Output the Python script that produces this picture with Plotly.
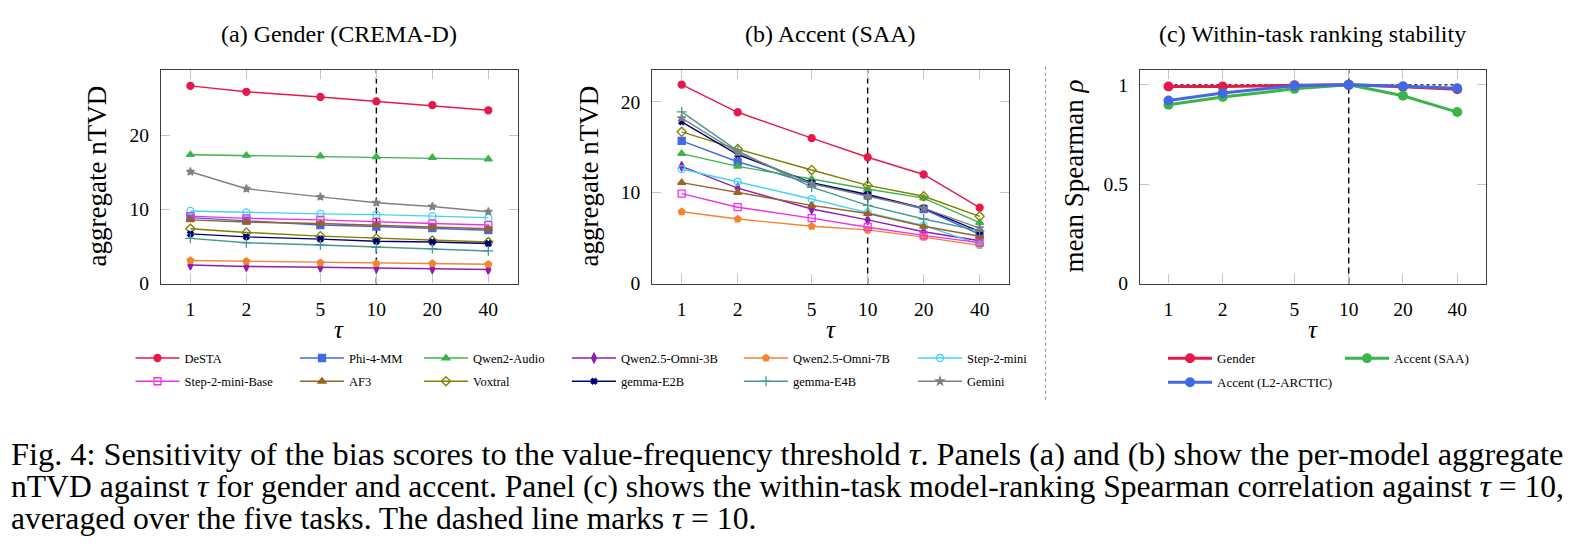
import plotly.graph_objects as go

W, H = 1574, 549

# ---------------- data ----------------
tau = [1, 2, 5, 10, 20, 40]
tau_ref = 10
tick_labels = ["1", "2", "5", "10", "20", "40"]

models = ["DeSTA", "Phi-4-MM", "Qwen2-Audio", "Qwen2.5-Omni-3B", "Qwen2.5-Omni-7B", "Step-2-mini",
          "Step-2-mini-Base", "AF3", "Voxtral", "gemma-E2B", "gemma-E4B", "Gemini"]

# panel (a): aggregate nTVD, gender (CREMA-D), one row per model
gender_ntvd = [
    [26.7, 25.9, 25.2, 24.6, 24.1, 23.4],   # DeSTA
    [8.9, 8.5, 7.9, 7.7, 7.5, 7.2],         # Phi-4-MM
    [17.4, 17.3, 17.2, 17.1, 17.0, 16.8],   # Qwen2-Audio
    [2.5, 2.3, 2.2, 2.1, 2.0, 1.9],         # Qwen2.5-Omni-3B
    [3.1, 3.0, 2.8, 2.7, 2.7, 2.6],         # Qwen2.5-Omni-7B
    [9.8, 9.6, 9.4, 9.3, 9.1, 8.9],         # Step-2-mini
    [9.1, 8.8, 8.6, 8.3, 8.1, 7.9],         # Step-2-mini-Base
    [8.6, 8.3, 8.1, 7.9, 7.6, 7.4],         # AF3
    [7.4, 6.9, 6.4, 6.1, 5.8, 5.6],         # Voxtral
    [6.7, 6.3, 6.0, 5.7, 5.6, 5.4],         # gemma-E2B
    [6.1, 5.5, 5.2, 4.9, 4.7, 4.4],         # gemma-E4B
    [15.1, 12.8, 11.7, 10.9, 10.4, 9.7],    # Gemini
]

# panel (b): aggregate nTVD, accent (SAA)
accent_ntvd = [
    [21.9, 18.85, 16.0, 13.9, 12.0, 8.35],  # DeSTA
    [15.7, 13.4, 11.0, 9.7, 8.2, 5.4],      # Phi-4-MM
    [14.3, 12.9, 11.5, 10.4, 9.4, 6.7],     # Qwen2-Audio
    [12.9, 10.5, 8.2, 7.0, 5.7, 4.7],       # Qwen2.5-Omni-3B
    [7.9, 7.1, 6.3, 5.9, 5.1, 4.2],         # Qwen2.5-Omni-7B
    [12.6, 11.2, 9.3, 7.8, 6.4, 4.3],       # Step-2-mini
    [9.9, 8.4, 7.2, 6.2, 5.3, 4.5],         # Step-2-mini-Base
    [11.1, 10.0, 8.6, 7.7, 6.3, 5.2],       # AF3
    [16.7, 14.8, 12.5, 10.8, 9.6, 7.4],     # Voxtral
    [17.8, 14.2, 11.1, 9.8, 8.3, 5.7],      # gemma-E2B
    [18.9, 14.6, 10.6, 8.6, 7.1, 5.8],      # gemma-E4B
    [18.2, 14.4, 11.0, 9.6, 8.3, 6.1],      # Gemini
]

# panel (c): mean Spearman rho vs tau = 10
rank_series = ["Gender", "Accent (SAA)", "Accent (L2-ARCTIC)"]
spearman_gender = [0.992, 0.992, 0.998, 1.0, 0.991, 0.978]
spearman_saa = [0.900, 0.939, 0.980, 1.0, 0.945, 0.863]
spearman_l2arctic = [0.921, 0.959, 0.995, 1.0, 0.993, 0.983]
spearman_ref = 1.0

# ---------------- styles ----------------
colors = ["#e6194b", "#4169e1", "#3cb44b", "#911eb4", "#f58231", "#42d4f4",
          "#f032e6", "#9a6324", "#808000", "#000075", "#469990", "#808080"]
symbols = ["circle", "square", "triangle-up", "diamond-tall", "pentagon", "circle-open",
           "square-open", "triangle-up", "diamond-open", "x", "cross-thin", "star"]
msizes = [7, 7, 7, 7, 7, 7, 7, 7, 7, 5, 7, 6]
rank_colors = ["#e6194b", "#3cb44b", "#4169e1"]

FONT = "Liberation Serif"

# panel boxes in pixels
box_a = (161, 517.7)
box_b = (652.3, 1009.0)
box_c = (1140.0, 1485.7)
top_px, bot_px = 71.0, 289.3

def px(x):
    return x / W

def py(y):
    return 1 - y / H

fig = go.Figure()

# legend columns (a/b)
col_line_start = [135.5, 300, 424, 572, 744, 918]
row1_center = 365.0
legend_names = ["legend", "legend2", "legend3", "legend4", "legend5", "legend6"]

for i, m in enumerate(models):
    col = i % 6
    fig.add_trace(go.Scatter(
        x=tau, y=gender_ntvd[i], name=m, mode="lines+markers",
        xaxis="x", yaxis="y", legendgroup=m, legend=legend_names[col], showlegend=True,
        line=dict(color=colors[i], width=1.4),
        marker=dict(symbol=symbols[i], size=msizes[i], color=colors[i],
                    line=dict(color=colors[i], width=1.3))))
for i, m in enumerate(models):
    fig.add_trace(go.Scatter(
        x=tau, y=accent_ntvd[i], name=m, mode="lines+markers",
        xaxis="x2", yaxis="y2", legendgroup=m, showlegend=False,
        line=dict(color=colors[i], width=1.4),
        marker=dict(symbol=symbols[i], size=msizes[i], color=colors[i],
                    line=dict(color=colors[i], width=1.3))))

rank_vals = [spearman_gender, spearman_saa, spearman_l2arctic]
rank_legend = ["legend7", "legend8", "legend7"]
for j, nm in enumerate(rank_series):
    fig.add_trace(go.Scatter(
        x=tau, y=rank_vals[j], name=nm, mode="lines+markers",
        xaxis="x3", yaxis="y3", legendgroup=nm, legend=rank_legend[j],
        line=dict(color=rank_colors[j], width=3),
        marker=dict(symbol="circle", size=10, color=rank_colors[j])))

# ---------------- axes ----------------
xr = [-0.158, 1.760]
def xaxis(dom, anchor):
    return dict(domain=[px(dom[0]), px(dom[1])], anchor=anchor, type="log", range=xr,
                tickvals=tau, ticktext=tick_labels, ticks="inside", ticklen=9,
                tickcolor="#c4c4c4", tickwidth=1, showline=True, linecolor="#3c3c3c",
                linewidth=1.3, mirror="ticks", showgrid=False, zeroline=False,
                tickfont=dict(family=FONT, size=19.5, color="black"), ticklabelstandoff=8)

def yaxis(anchor, rng, tv, tt):
    return dict(domain=[py(bot_px), py(top_px)], anchor=anchor, range=rng,
                tickvals=tv, ticktext=tt, ticks="inside", ticklen=9,
                tickcolor="#c4c4c4", tickwidth=1, showline=True, linecolor="#3c3c3c",
                linewidth=1.3, mirror="ticks", showgrid=False, zeroline=False,
                tickfont=dict(family=FONT, size=19.5, color="black"), ticklabelstandoff=7)

layout = dict(
    width=W, height=H, margin=dict(l=0, r=0, t=0, b=0),
    paper_bgcolor="white", plot_bgcolor="white",
    font=dict(family=FONT, color="black"),
    xaxis=xaxis(box_a, "y"), xaxis2=xaxis(box_b, "y2"), xaxis3=xaxis(box_c, "y3"),
    yaxis=yaxis("x", [0, 28.9], [0, 10, 20], ["0", "10", "20"]),
    yaxis2=yaxis("x2", [0, 23.55], [0, 10, 20], ["0", "10", "20"]),
    yaxis3=yaxis("x3", [0, 1.077], [0, 0.5, 1], ["0", "0.5", "1"]),
)

leg_common = dict(orientation="v", xanchor="left", yanchor="top", bgcolor="rgba(0,0,0,0)",
                  font=dict(family=FONT, size=12.5, color="black"), itemwidth=44,
                  tracegroupgap=4, itemclick=False, itemdoubleclick=False)
for c, ln in enumerate(legend_names):
    layout[ln] = dict(leg_common, x=px(col_line_start[c] - 5), y=py(row1_center - 14.6))
layout["legend7"] = dict(leg_common, x=px(1168 - 5), y=py(row1_center - 14.6),
                         font=dict(family=FONT, size=13, color="black"))
layout["legend8"] = dict(leg_common, x=px(1345 - 5), y=py(row1_center - 14.6),
                         font=dict(family=FONT, size=13, color="black"))
fig.update_layout(**layout)

# ---------------- shapes ----------------
for xa, ya in [("x", "y"), ("x2", "y2"), ("x3", "y3")]:
    fig.add_shape(type="line", xref=xa, yref=ya + " domain", x0=tau_ref, x1=tau_ref, y0=0, y1=1,
                  line=dict(color="black", width=1.4, dash="6px,4px"), layer="below")
fig.add_shape(type="line", xref="x3", yref="y3", x0=tau[0], x1=tau[-1], y0=spearman_ref, y1=spearman_ref,
              line=dict(color="black", width=1.2, dash="dot"), layer="below")
fig.add_shape(type="line", xref="paper", yref="paper", x0=px(1045.5), x1=px(1045.5),
              y0=py(408), y1=py(67), line=dict(color="#9a9a9a", width=1.2, dash="dot"))

# ---------------- text ----------------
titles = ["(a) Gender (CREMA-D)", "(b) Accent (SAA)", "(c) Within-task ranking stability"]
for t, b in zip(titles, [box_a, box_b, box_c]):
    fig.add_annotation(text=t, xref="paper", yref="paper", x=px((b[0] + b[1]) / 2), y=py(35),
                       xanchor="center", yanchor="middle", showarrow=False,
                       font=dict(family=FONT, size=24, color="black"))
    fig.add_annotation(text="<i>τ</i>", xref="paper", yref="paper", x=px((b[0] + b[1]) / 2), y=py(336),
                       xanchor="center", yanchor="middle", showarrow=False,
                       font=dict(family=FONT, size=25, color="black"))

ylabels = [("aggregate nTVD", 97), ("aggregate nTVD", 589), ("mean Spearman <i>ρ</i>", 1074)]
for t, xx in ylabels:
    fig.add_annotation(text=t, xref="paper", yref="paper", x=px(xx), y=py((top_px + bot_px) / 2),
                       xanchor="center", yanchor="middle", showarrow=False, textangle=-90,
                       font=dict(family=FONT, size=27, color="black"))

caption = [
    "Fig. 4: Sensitivity of the bias scores to the value-frequency threshold <i>τ</i>. Panels (a) and (b) show the per-model aggregate",
    "nTVD against <i>τ</i> for gender and accent. Panel (c) shows the within-task model-ranking Spearman correlation against <i>τ</i> = 10,",
    "averaged over the five tasks. The dashed line marks <i>τ</i> = 10.",
]
caption_sizes = [32.35, 31.6, 31.6]
for k, line in enumerate(caption):
    fig.add_annotation(text=line, xref="paper", yref="paper", x=px(9), y=py(463 + 33 * k),
                       xanchor="left", yanchor="middle", showarrow=False,
                       font=dict(family=FONT, size=caption_sizes[k], color="black"))

fig.write_html("out.html")
